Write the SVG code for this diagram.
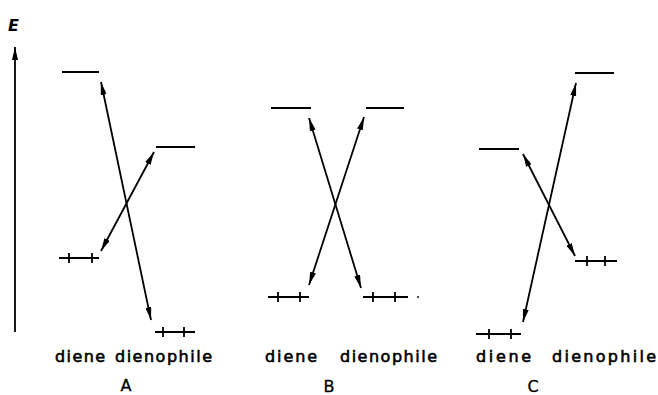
<svg xmlns="http://www.w3.org/2000/svg" width="658" height="395" viewBox="0 0 658 395">
<defs>
<marker id="ah" viewBox="0 0 13 6" refX="13" refY="3" markerWidth="13" markerHeight="6" markerUnits="userSpaceOnUse" orient="auto-start-reverse">
<path d="M0,0 L13,3 L0,6 Z" fill="#000"/>
</marker>
</defs>
<style>
.lv{stroke:#000;stroke-width:1.8;fill:none}
.tk{stroke:#000;stroke-width:1.8}
.ar{stroke:#000;stroke-width:1.8;fill:none;marker-start:url(#ah);marker-end:url(#ah)}
.lb{font-family:"DejaVu Sans",sans-serif;font-size:16px;fill:#000;stroke:#000;stroke-width:0.6}
.cap{font-family:"DejaVu Sans",sans-serif;font-size:16px;fill:#000;text-anchor:middle;stroke:#000;stroke-width:0.3}
</style>
<rect width="658" height="395" fill="#fff"/>
<g id="axis">
<line x1="15" y1="332" x2="15" y2="47" class="lv" marker-end="url(#ah)"/>
<text x="8" y="31" style="font-family:'DejaVu Sans',sans-serif;font-size:16px;font-style:italic;font-weight:bold">E</text>
</g>
<g id="A">
<g id="A-diene-lumo"><line x1="62" y1="72" x2="99" y2="72" class="lv"/></g>
<g id="A-dienophile-lumo"><line x1="156" y1="147" x2="195" y2="147" class="lv"/></g>
<g id="A-diene-homo"><line x1="59" y1="258" x2="99" y2="258" class="lv"/><line x1="69" y1="253" x2="69" y2="263" class="tk"/><line x1="92" y1="253" x2="92" y2="263" class="tk"/></g>
<g id="A-dienophile-homo"><line x1="155" y1="332" x2="195" y2="332" class="lv"/><line x1="163" y1="327" x2="163" y2="337" class="tk"/><line x1="184" y1="327" x2="184" y2="337" class="tk"/></g>
<text class="lb" x="55" y="362" textLength="50" lengthAdjust="spacing">diene</text>
<text class="lb" x="115" y="362" textLength="97" lengthAdjust="spacing">dienophile</text>
<text class="cap" x="126" y="391">A</text>
</g>
<g id="B">
<g id="B-diene-lumo"><line x1="271" y1="108" x2="311" y2="108" class="lv"/></g>
<g id="B-dienophile-lumo"><line x1="366" y1="108" x2="404" y2="108" class="lv"/></g>
<g id="B-diene-homo"><line x1="268" y1="297" x2="309" y2="297" class="lv"/><line x1="278" y1="292" x2="278" y2="302" class="tk"/><line x1="300" y1="292" x2="300" y2="302" class="tk"/></g>
<g id="B-dienophile-homo"><line x1="363" y1="297" x2="408" y2="297" class="lv"/><line x1="373" y1="292" x2="373" y2="302" class="tk"/><line x1="395" y1="292" x2="395" y2="302" class="tk"/><circle cx="418" cy="297" r="0.9" fill="#000"/></g>
<text class="lb" x="265" y="362" textLength="52" lengthAdjust="spacing">diene</text>
<text class="lb" x="340" y="362" textLength="97" lengthAdjust="spacing">dienophile</text>
<text class="cap" x="329" y="392">B</text>
</g>
<g id="C">
<g id="C-diene-lumo"><line x1="479" y1="149" x2="519" y2="149" class="lv"/></g>
<g id="C-dienophile-lumo"><line x1="575" y1="73" x2="614" y2="73" class="lv"/></g>
<g id="C-diene-homo"><line x1="476" y1="334" x2="521" y2="334" class="lv"/><line x1="489" y1="329" x2="489" y2="339" class="tk"/><line x1="511" y1="329" x2="511" y2="339" class="tk"/></g>
<g id="C-dienophile-homo"><line x1="575" y1="261" x2="617" y2="261" class="lv"/><line x1="587" y1="256" x2="587" y2="266" class="tk"/><line x1="605" y1="256" x2="605" y2="266" class="tk"/></g>
<text class="lb" x="476" y="362" textLength="55" lengthAdjust="spacing">diene</text>
<text class="lb" x="552" y="362" textLength="104" lengthAdjust="spacing">dienophile</text>
<text class="cap" x="533" y="392">C</text>
</g>
<g id="connectors">
<line x1="101" y1="82" x2="151" y2="320" class="ar"/>
<line x1="101" y1="251" x2="154" y2="152" class="ar"/>
<line x1="309" y1="118" x2="361" y2="288" class="ar"/>
<line x1="364" y1="117" x2="309" y2="285" class="ar"/>
<line x1="523" y1="154" x2="575" y2="256" class="ar"/>
<line x1="576" y1="83" x2="523" y2="322" class="ar"/>
</g>
</svg>
